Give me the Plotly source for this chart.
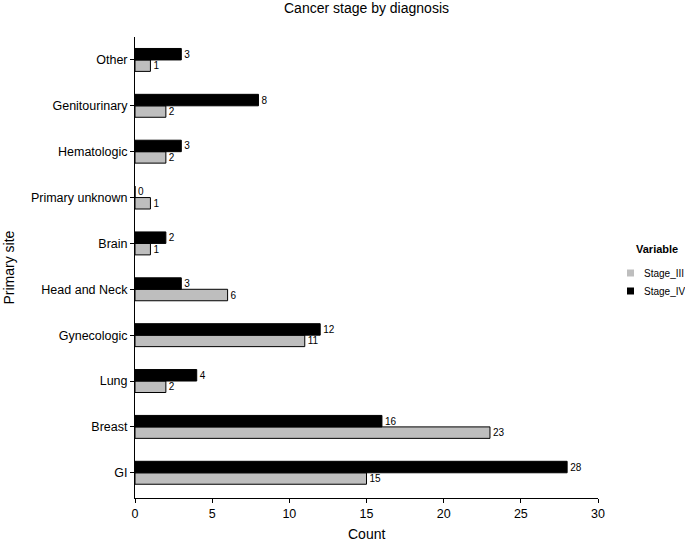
import plotly.graph_objects as go

categories = ["GI", "Breast", "Lung", "Gynecologic", "Head and Neck", "Brain",
              "Primary unknown", "Hematologic", "Genitourinary", "Other"]
stage_iii = [15, 23, 2, 11, 6, 1, 1, 2, 2, 1]
stage_iv = [28, 16, 4, 12, 3, 2, 0, 3, 8, 3]
series_names = ["Stage_III", "Stage_IV"]
x_ticks = [0, 5, 10, 15, 20, 25, 30]

font_family = "Liberation Sans, Arial, sans-serif"
colors = {"Stage_III": "#BEBEBE", "Stage_IV": "black"}

W, H = 685, 543
L, R_EDGE, T, B_EDGE = 135, 598, 37, 498

fig = go.Figure()
for name, vals in zip(series_names, [stage_iii, stage_iv]):
    fig.add_trace(go.Bar(
        y=categories, x=vals, name=name, orientation="h", showlegend=False,
        marker=dict(color=colors[name], line=dict(color="black", width=1)),
        text=vals, textposition="outside", cliponaxis=False,
        textfont=dict(size=10, color="black", family=font_family),
    ))

def px_x(x):
    return x / W

def px_y(y):
    return 1 - y / H

annotations = [
    dict(text="<b>Variable</b>", x=px_x(634), y=px_y(249),
         xref="paper", yref="paper", xanchor="left", yanchor="middle",
         showarrow=False, font=dict(size=11, color="black")),
    dict(text="Count", x=px_x((L + R_EDGE) / 2), y=px_y(534),
         xref="paper", yref="paper", xanchor="center", yanchor="middle",
         showarrow=False, font=dict(size=14, color="black")),
    dict(text="Primary site", x=px_x(8), y=px_y((T + B_EDGE) / 2),
         xref="paper", yref="paper", xanchor="center", yanchor="middle",
         textangle=-90, showarrow=False, font=dict(size=14, color="black")),
]
shapes = []
for i, name in enumerate(series_names):
    cy = 273 + 18 * i
    annotations.append(dict(text=name, x=px_x(642), y=px_y(cy),
                            xref="paper", yref="paper", xanchor="left",
                            yanchor="middle", showarrow=False,
                            font=dict(size=10, color="black")))
    shapes.append(dict(type="rect", xref="paper", yref="paper",
                       x0=px_x(627), x1=px_x(634),
                       y0=px_y(cy + 3.5), y1=px_y(cy - 3.5),
                       fillcolor=colors[name], line=dict(width=0)))

fig.update_layout(
    width=W, height=H,
    barmode="group", bargap=0.5, bargroupgap=0,
    plot_bgcolor="white", paper_bgcolor="white",
    font=dict(family=font_family, size=12.5, color="black"),
    margin=dict(l=0, r=0, t=0, b=0, autoexpand=False),
    showlegend=False,
    title=dict(text="Cancer stage by diagnosis", x=(L + R_EDGE) / 2 / W,
               xref="container", y=1 - 8.5 / H, yref="container",
               xanchor="center", yanchor="middle",
               font=dict(size=14, color="black")),
    annotations=annotations,
    shapes=shapes,
    xaxis=dict(domain=[L / W, R_EDGE / W], range=[0, 30], tickvals=x_ticks,
               showgrid=False, zeroline=False, automargin=False,
               showline=True, linecolor="black", linewidth=1,
               ticks="outside", ticklen=4, tickcolor="black"),
    yaxis=dict(domain=[1 - B_EDGE / H, 1 - T / H],
               categoryorder="array", categoryarray=categories,
               range=[-0.55, 9.5], showgrid=False, zeroline=False,
               automargin=False,
               showline=True, linecolor="black", linewidth=1,
               ticks="outside", ticklen=4, tickcolor="black"),
)

fig.write_html("out.html", config={"displayModeBar": False},
               post_script="document.body.style.margin='0';document.body.style.padding='0';")
